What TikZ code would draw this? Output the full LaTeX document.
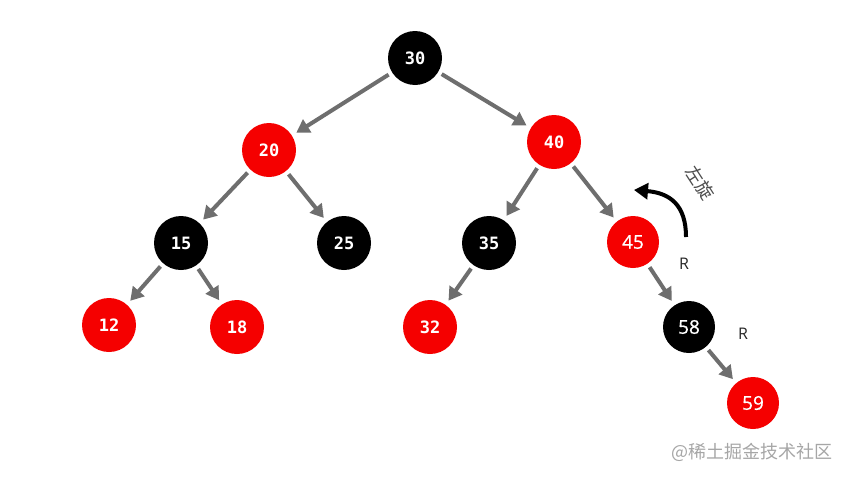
\documentclass[tikz,border=0pt]{standalone}
\usepackage{fontspec}
\setmainfont{Open Sans}
\setmonofont{DejaVu Sans Mono}
\newfontfamily\numfont[FakeBold=0.8]{Open Sans}
\newfontfamily\cjk{Noto Sans CJK SC}
\usetikzlibrary{arrows.meta}
\definecolor{nred}{HTML}{F50000}
\definecolor{egray}{HTML}{6E6E6E}
\tikzset{
  x=1pt, y=-1pt,
  rb/.style={circle, minimum size=54pt, inner sep=0pt, text=white, font=\ttfamily\bfseries\fontsize{17}{17}\selectfont},
  rbs/.style={circle, minimum size=52pt, inner sep=0pt, text=white, font=\numfont\fontsize{19}{19}\selectfont},
  rednode/.style={fill=nred},
  blacknode/.style={fill=black},
  edge/.style={draw=egray, line width=4pt, -{Triangle[length=13pt,width=15pt]}, shorten <=4pt, shorten >=5pt},
  lbl/.style={font=\fontsize{16}{16}\selectfont, text=black!85}
}
\begin{document}
\begin{tikzpicture}
\useasboundingbox[fill=white] (0,0) rectangle (850,479);
\node[rb,blacknode] (n30) at (415,58) {30};
\node[rb,rednode] (n20) at (269,150) {20};
\node[rb,rednode] (n40) at (554,142) {40};
\node[rb,blacknode] (n15) at (181,243) {15};
\node[rb,blacknode] (n25) at (344,243) {25};
\node[rb,blacknode] (n35) at (489,243) {35};
\node[rbs,rednode] (n45) at (633,242) {45};
\node[rb,rednode] (n12) at (109,325) {12};
\node[rb,rednode] (n18) at (237,327) {18};
\node[rb,rednode] (n32) at (430,327) {32};
\node[rbs,blacknode] (n58) at (689,327) {58};
\node[rbs,rednode] (n59) at (753,403) {59};

\draw[edge] (n30) -- (n20);
\draw[edge] (n30) -- (n40);
\draw[edge] (n20) -- (n15);
\draw[edge] (n20) -- (n25);
\draw[edge] (n40) -- (n35);
\draw[edge] (n40) -- (n45);
\draw[edge] (n15) -- (n12);
\draw[edge] (n15) -- (n18);
\draw[edge] (n35) -- (n32);
\draw[edge] (n45) -- (n58);
\draw[edge] (n58) -- (n59);

\coordinate (rs) at (686,237);
\coordinate (re) at (634,190);
\draw[line width=4pt, -{Triangle[length=14pt,width=16pt]}] (rs) .. controls (686,205) and (670,193) .. (re);
\node[lbl] (r1) at (684,264) {R};
\node[lbl] (r2) at (743,334) {R};
\node[rotate=-57, inner sep=0pt, text=black!70, font=\cjk\fontsize{18}{18}\selectfont] (rot) at (700,183) {左旋};
\node[text=black!35, font=\cjk\fontsize{18}{18}\selectfont] (wm) at (752,452) {@稀土掘金技术社区};
\end{tikzpicture}
\end{document}
